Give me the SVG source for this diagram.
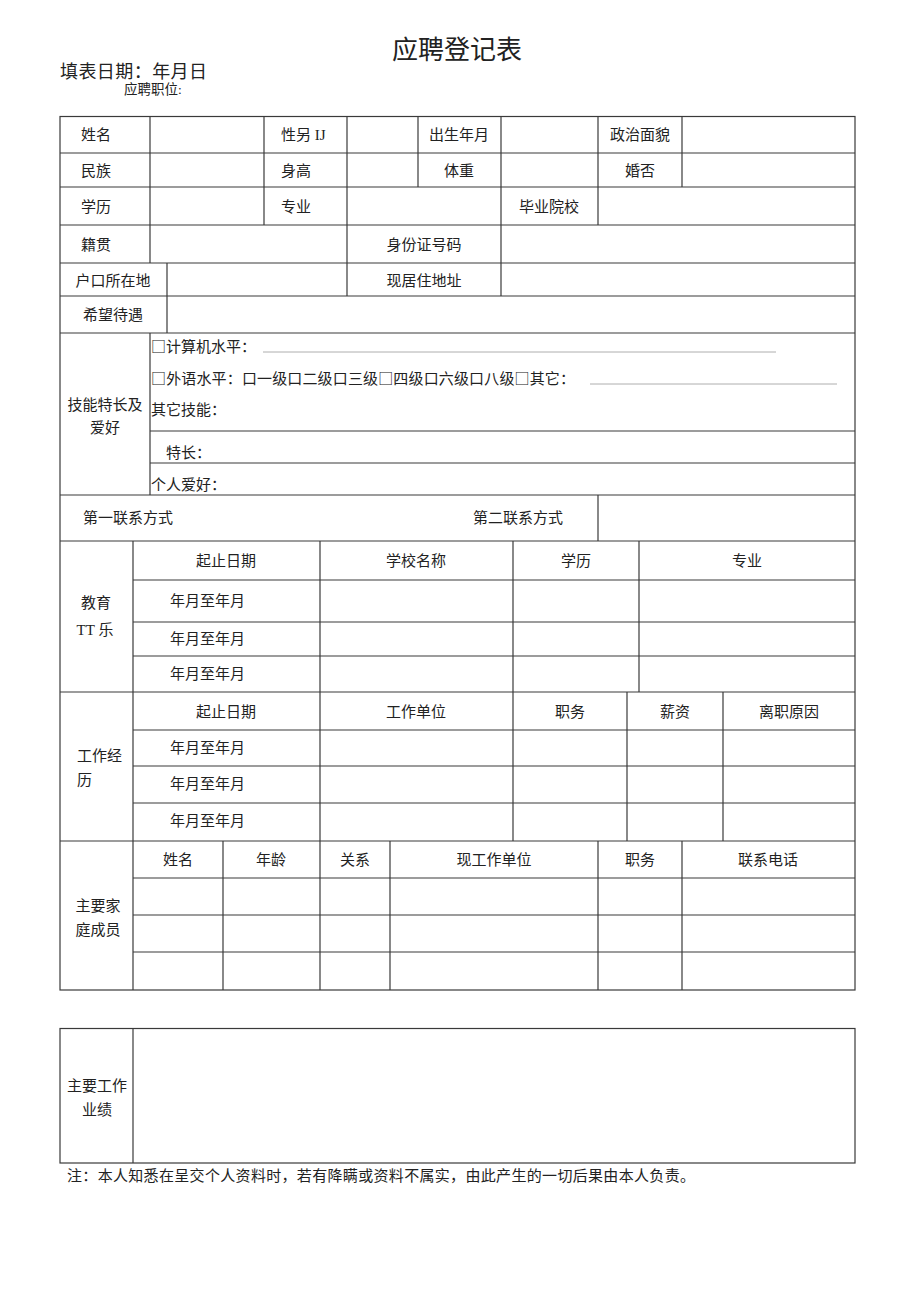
<svg xmlns="http://www.w3.org/2000/svg" width="920" height="1301" viewBox="0 0 920 1301">
<style>
text{font-family:"Liberation Serif","Noto Sans CJK SC",serif;font-size:15px;fill:#222;dominant-baseline:central}
.cj{font-family:"Noto Sans CJK SC","Liberation Serif",serif}
.c{text-anchor:middle}
.ln line,.ln rect{stroke:#3a3a3a;stroke-width:1.2;fill:none}
.ul{stroke:#999;stroke-width:0.8}
</style>
<rect width="920" height="1301" fill="#fff"/>
<g id="header">
<text x="457" y="50" class="c" style="font-size:26px">应聘登记表</text>
<text x="60" y="72" style="font-size:18px" textLength="147">填表日期：年月日</text>
<text x="124" y="89" style="font-size:13.5px">应聘职位:</text>
</g>
<g id="grid" class="ln">
<rect x="60" y="116.5" width="795" height="873.5"/>
<line x1="60" y1="153" x2="855" y2="153"/>
<line x1="60" y1="187" x2="855" y2="187"/>
<line x1="60" y1="225" x2="855" y2="225"/>
<line x1="60" y1="263" x2="855" y2="263"/>
<line x1="60" y1="296" x2="855" y2="296"/>
<line x1="60" y1="333" x2="855" y2="333"/>
<line x1="150" y1="431" x2="855" y2="431"/>
<line x1="150" y1="463" x2="855" y2="463"/>
<line x1="60" y1="495" x2="855" y2="495"/>
<line x1="60" y1="541" x2="855" y2="541"/>
<line x1="133" y1="580" x2="855" y2="580"/>
<line x1="133" y1="622" x2="855" y2="622"/>
<line x1="133" y1="656" x2="855" y2="656"/>
<line x1="60" y1="692" x2="855" y2="692"/>
<line x1="133" y1="730" x2="855" y2="730"/>
<line x1="133" y1="766" x2="855" y2="766"/>
<line x1="133" y1="803" x2="855" y2="803"/>
<line x1="60" y1="841" x2="855" y2="841"/>
<line x1="133" y1="878" x2="855" y2="878"/>
<line x1="133" y1="915" x2="855" y2="915"/>
<line x1="133" y1="952" x2="855" y2="952"/>
<line x1="150" y1="116" x2="150" y2="263"/>
<line x1="150" y1="333" x2="150" y2="495"/>
<line x1="167" y1="263" x2="167" y2="333"/>
<line x1="264" y1="116" x2="264" y2="225"/>
<line x1="347" y1="116" x2="347" y2="296"/>
<line x1="418" y1="116" x2="418" y2="187"/>
<line x1="501" y1="116" x2="501" y2="296"/>
<line x1="598" y1="116" x2="598" y2="225"/>
<line x1="682" y1="116" x2="682" y2="187"/>
<line x1="598" y1="495" x2="598" y2="541"/>
<line x1="133" y1="541" x2="133" y2="990"/>
<line x1="320" y1="541" x2="320" y2="990"/>
<line x1="513" y1="541" x2="513" y2="841"/>
<line x1="639" y1="541" x2="639" y2="692"/>
<line x1="627" y1="692" x2="627" y2="841"/>
<line x1="723" y1="692" x2="723" y2="841"/>
<line x1="223" y1="841" x2="223" y2="990"/>
<line x1="390" y1="841" x2="390" y2="990"/>
<line x1="598" y1="841" x2="598" y2="990"/>
<line x1="682" y1="841" x2="682" y2="990"/>
<rect x="60" y="1028.5" width="795" height="134.5"/>
<line x1="133" y1="1028" x2="133" y2="1163"/>
</g>
<g id="basic-info">
<text x="81" y="135">姓名</text>
<text x="281" y="135">性另 IJ</text>
<text x="459" y="135" class="c">出生年月</text>
<text x="640" y="135" class="c">政治面貌</text>
<text x="81" y="171">民族</text>
<text x="281" y="171">身高</text>
<text x="459" y="171" class="c">体重</text>
<text x="640" y="171" class="c">婚否</text>
<text x="81" y="207">学历</text>
<text x="281" y="207">专业</text>
<text x="549" y="207" class="c">毕业院校</text>
<text x="81" y="245">籍贯</text>
<text x="424" y="245" class="c">身份证号码</text>
<text x="113" y="281" class="c">户口所在地</text>
<text x="424" y="281" class="c">现居住地址</text>
<text x="113" y="315" class="c">希望待遇</text>
</g>
<g id="skills">
<text x="105" y="405" class="c">技能特长及</text>
<text x="105" y="428" class="c">爱好</text>
<text x="151" y="345" class="cj">□计算机水平：</text>
<line class="ul" x1="263" y1="352" x2="776" y2="352"/>
<text x="151" y="377" class="cj" textLength="424">□外语水平：口一级口二级口三级□四级口六级口八级□其它：</text>
<line class="ul" x1="590" y1="384" x2="837" y2="384"/>
<text x="151" y="410">其它技能：</text>
<text x="166" y="453">特长：</text>
<text x="151" y="485">个人爱好：</text>
</g>
<g id="contact">
<text x="83" y="518">第一联系方式</text>
<text x="473" y="518">第二联系方式</text>
</g>
<g id="education">
<text x="96" y="603" class="c">教育</text>
<text x="95" y="630" class="c">TT 乐</text>
<text x="226" y="561" class="c">起止日期</text>
<text x="416" y="561" class="c">学校名称</text>
<text x="576" y="561" class="c">学历</text>
<text x="747" y="561" class="c">专业</text>
<text x="170" y="601">年月至年月</text>
<text x="170" y="639">年月至年月</text>
<text x="170" y="674">年月至年月</text>
</g>
<g id="work">
<text x="77" y="756">工作经</text>
<text x="77" y="780">历</text>
<text x="226" y="712" class="c">起止日期</text>
<text x="416" y="712" class="c">工作单位</text>
<text x="570" y="712" class="c">职务</text>
<text x="675" y="712" class="c">薪资</text>
<text x="789" y="712" class="c">离职原因</text>
<text x="170" y="748">年月至年月</text>
<text x="170" y="784">年月至年月</text>
<text x="170" y="821">年月至年月</text>
</g>
<g id="family">
<text x="98" y="906" class="c">主要家</text>
<text x="98" y="930" class="c">庭成员</text>
<text x="178" y="860" class="c">姓名</text>
<text x="271" y="860" class="c">年龄</text>
<text x="355" y="860" class="c">关系</text>
<text x="494" y="860" class="c">现工作单位</text>
<text x="640" y="860" class="c">职务</text>
<text x="768" y="860" class="c">联系电话</text>
</g>
<g id="achievements">
<text x="97" y="1086" class="c">主要工作</text>
<text x="97" y="1110" class="c">业绩</text>
</g>
<g id="note">
<text x="67" y="1176" style="font-size:15px" textLength="628">注：本人知悉在呈交个人资料时，若有降瞒或资料不属实，由此产生的一切后果由本人负责。</text>
</g>
</svg>
